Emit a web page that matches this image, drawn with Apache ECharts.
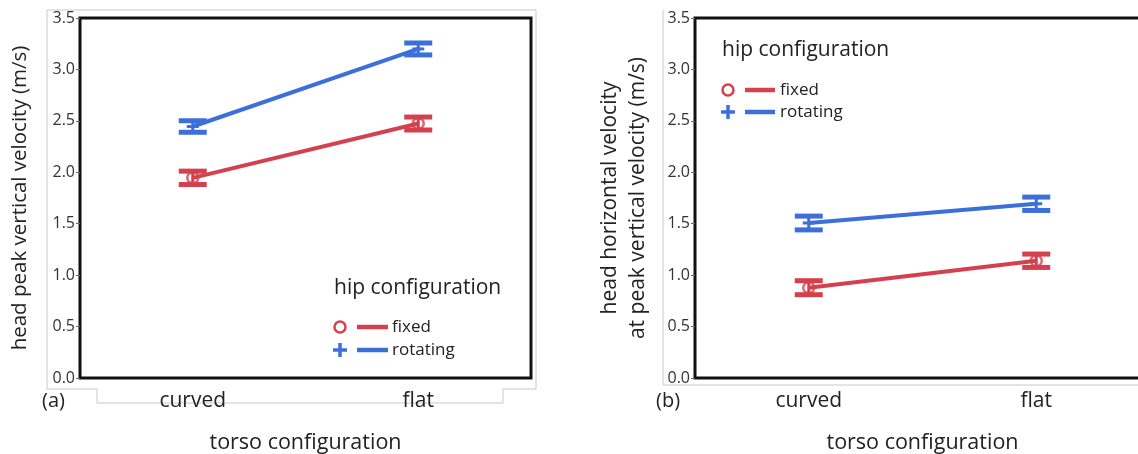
<!DOCTYPE html>
<html>
<head>
<meta charset="utf-8">
<script src="https://cdn.jsdelivr.net/npm/echarts@6/dist/echarts.min.js"></script>
<style>html,body{margin:0;padding:0;background:#fff;}#c{width:1138px;height:454px;}</style>
</head>
<body>
<div id="c"></div>
<script>
const categories = ['curved', 'flat'];
const yTicks = { min: 0, max: 3.5, interval: 0.5 };
// panel (a): head peak vertical velocity
const aFixed = [1.946, 2.474];
const aFixedErr = [0.065, 0.063];
const aRotating = [2.445, 3.199];
const aRotatingErr = [0.056, 0.058];
// panel (b): head horizontal velocity at peak vertical velocity
const bFixed = [0.878, 1.140];
const bFixedErr = [0.068, 0.065];
const bRotating = [1.507, 1.694];
const bRotatingErr = [0.067, 0.065];

const RED = '#d5404e';
const BLUE = '#3c6fda';
const FONT = 'Open Sans';

function errData(vals, errs) { return vals.map((v, i) => [i, v, errs[i]]); }

function errRender(color) {
  return function (params, api) {
    const x = api.value(0), y = api.value(1), e = api.value(2);
    const t = api.coord([x, y + e]);
    const b = api.coord([x, y - e]);
    const hw = 14;
    return {
      type: 'group',
      children: [
        { type: 'line', shape: { x1: t[0], y1: t[1], x2: b[0], y2: b[1] }, style: { stroke: color, lineWidth: 3 } },
        { type: 'line', shape: { x1: t[0] - hw, y1: t[1], x2: t[0] + hw, y2: t[1] }, style: { stroke: color, lineWidth: 5 } },
        { type: 'line', shape: { x1: b[0] - hw, y1: b[1], x2: b[0] + hw, y2: b[1] }, style: { stroke: color, lineWidth: 5 } }
      ]
    };
  };
}

function plusRender(color) {
  return function (params, api) {
    const p = api.coord([api.value(0), api.value(1)]);
    return { type: 'line', shape: { x1: p[0] - 6, y1: p[1], x2: p[0] + 6, y2: p[1] }, style: { stroke: color, lineWidth: 3 } };
  };
}

function panelSeries(idx, fixed, fixedErr, rot, rotErr) {
  return [
    { type: 'line', xAxisIndex: idx, yAxisIndex: idx, data: rot, symbol: 'none', lineStyle: { color: BLUE, width: 4 }, z: 2, silent: true },
    { type: 'line', xAxisIndex: idx, yAxisIndex: idx, data: fixed, symbol: 'none', lineStyle: { color: RED, width: 4 }, z: 2, silent: true },
    { type: 'custom', xAxisIndex: idx, yAxisIndex: idx, data: errData(rot, rotErr), renderItem: errRender(BLUE), z: 3, silent: true },
    { type: 'custom', xAxisIndex: idx, yAxisIndex: idx, data: errData(fixed, fixedErr), renderItem: errRender(RED), z: 3, silent: true },
    { type: 'custom', xAxisIndex: idx, yAxisIndex: idx, data: errData(rot, rotErr), renderItem: plusRender(BLUE), z: 4, silent: true },
    { type: 'scatter', xAxisIndex: idx, yAxisIndex: idx, data: fixed, symbol: 'circle', symbolSize: 11,
      itemStyle: { color: 'rgba(0,0,0,0)', borderColor: RED, borderWidth: 2.5 }, z: 4, silent: true }
  ];
}

function xAxis(idx) {
  return {
    type: 'category', gridIndex: idx, data: categories,
    axisLine: { show: false }, axisTick: { show: false },
    axisLabel: { fontSize: 21, color: '#222', margin: 13, fontFamily: FONT },
    name: 'torso configuration', nameLocation: 'middle', nameGap: 54,
    nameTextStyle: { fontSize: 21.5, color: '#222', fontFamily: FONT }
  };
}
function yAxis(idx, name, gap, lh, fs) {
  return {
    type: 'value', gridIndex: idx, min: yTicks.min, max: yTicks.max, interval: yTicks.interval,
    axisLine: { show: false }, splitLine: { show: false },
    axisTick: { show: true, length: 4, lineStyle: { color: '#666' } },
    axisLabel: { fontSize: 16, color: '#333', margin: 5, fontFamily: FONT, formatter: v => v.toFixed(1) },
    name: name, nameLocation: 'middle', nameGap: gap,
    nameTextStyle: { fontSize: fs, color: '#222', fontFamily: FONT, lineHeight: lh }
  };
}

const GRAY = '#c8c8c8';
function gline(pts) { return { type: 'polyline', shape: { points: pts }, style: { stroke: GRAY, lineWidth: 1, fill: null }, silent: true, z: 0 }; }

function legend(x, titleY, row1, row2, lineX1, lineX2, textX) {
  return [
    { type: 'text', x: x, y: titleY, style: { text: 'hip configuration', fontSize: 21, fontFamily: FONT, fill: '#222', verticalAlign: 'middle' } },
    { type: 'circle', shape: { cx: x + 6, cy: row1, r: 5.5 }, style: { fill: 'none', stroke: RED, lineWidth: 2.5 } },
    { type: 'line', shape: { x1: lineX1, y1: row1, x2: lineX2, y2: row1 }, style: { stroke: RED, lineWidth: 4.5 } },
    { type: 'text', x: textX, y: row1, style: { text: 'fixed', fontSize: 17, fontFamily: FONT, fill: '#222', verticalAlign: 'middle' } },
    { type: 'line', shape: { x1: x - 1, y1: row2, x2: x + 13, y2: row2 }, style: { stroke: BLUE, lineWidth: 3.5 } },
    { type: 'line', shape: { x1: x + 6, y1: row2 - 7, x2: x + 6, y2: row2 + 7 }, style: { stroke: BLUE, lineWidth: 3.5 } },
    { type: 'line', shape: { x1: lineX1, y1: row2, x2: lineX2, y2: row2 }, style: { stroke: BLUE, lineWidth: 4.5 } },
    { type: 'text', x: textX, y: row2, style: { text: 'rotating', fontSize: 17, fontFamily: FONT, fill: '#222', verticalAlign: 'middle' } }
  ];
}

const chart = echarts.init(document.getElementById('c'));
chart.setOption({
  animation: false,
  backgroundColor: '#fff',
  grid: [
    { left: 80, top: 18, width: 451, height: 360, show: true, borderColor: '#111', borderWidth: 3, outerBoundsMode: 'none', containLabel: false },
    { left: 695, top: 18, width: 455, height: 360, show: true, borderColor: '#111', borderWidth: 3, outerBoundsMode: 'none', containLabel: false }
  ],
  xAxis: [xAxis(0), xAxis(1)],
  yAxis: [
    yAxis(0, 'head peak vertical velocity (m/s)', 48, 24, 20.5),
    yAxis(1, 'head horizontal velocity\nat peak vertical velocity (m/s)', 43, 28, 21)
  ],
  series: [].concat(
    panelSeries(0, aFixed, aFixedErr, aRotating, aRotatingErr),
    panelSeries(1, bFixed, bFixedErr, bRotating, bRotatingErr)
  ),
  graphic: [].concat(
    [
      gline([[47, 389], [47, 10], [536, 10], [536, 389], [503, 389], [503, 403], [97, 403], [97, 389], [47, 389]]),
      gline([[663, 10], [663, 385], [1138, 385]]),
      { type: 'text', x: 42, y: 401, style: { text: '(a)', fontSize: 20, fontFamily: FONT, fill: '#222', verticalAlign: 'middle' } },
      { type: 'text', x: 656, y: 401, style: { text: '(b)', fontSize: 20, fontFamily: FONT, fill: '#222', verticalAlign: 'middle' } }
    ],
    legend(334, 288, 327, 350, 357, 388, 392),
    legend(722, 50, 90, 112, 745, 775, 780)
  )
});
</script>
</body>
</html>
